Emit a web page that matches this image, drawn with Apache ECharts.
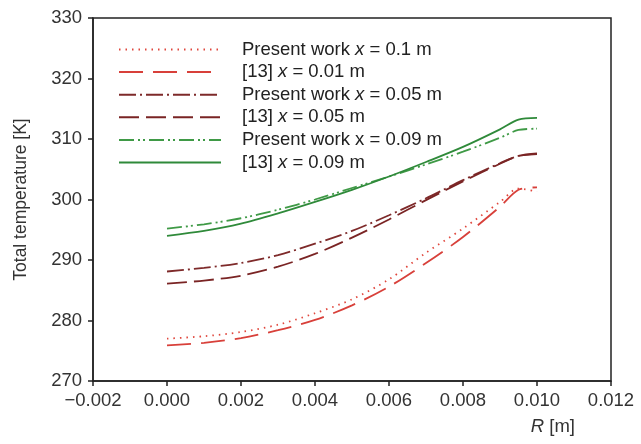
<!DOCTYPE html>
<html>
<head>
<meta charset="utf-8">
<script src="https://cdn.jsdelivr.net/npm/echarts@6/dist/echarts.min.js"></script>
<style>
html,body{margin:0;padding:0;background:#fff;}
#c{width:641px;height:444px;}
</style>
</head>
<body>
<div id="c"></div>
<script>
// Data
var radius = [0, 0.001, 0.002, 0.003, 0.004, 0.005, 0.006, 0.007, 0.008, 0.009, 0.0095, 0.010];
var presentX01 = [277.0, 277.4, 278.1, 279.3, 281.2, 283.5, 286.8, 291.2, 295.2, 299.6, 301.8, 301.3];
var ref13X001 = [275.9, 276.3, 277.1, 278.4, 280.1, 282.5, 285.6, 289.5, 293.8, 298.8, 301.6, 302.0];
var presentX005 = [288.1, 288.7, 289.5, 290.8, 292.7, 294.8, 297.4, 300.2, 303.2, 306.0, 307.2, 307.5];
var ref13X005 = [286.1, 286.6, 287.4, 288.9, 291.0, 293.7, 296.7, 299.9, 303.0, 305.9, 307.2, 307.6];
var presentX009 = [295.2, 295.9, 296.9, 298.3, 300.0, 301.9, 303.8, 305.8, 307.9, 310.2, 311.5, 311.7];
var ref13X009 = [294.0, 294.8, 296.0, 297.7, 299.6, 301.6, 303.8, 306.2, 308.7, 311.6, 313.2, 313.5];
var xTicks = ['\u22120.002', '0.000', '0.002', '0.004', '0.006', '0.008', '0.010', '0.012'];
var yTicks = ['270', '280', '290', '300', '310', '320', '330'];
var seriesNames = ['p01', 'r001', 'p005', 'r005', 'p009', 'r009'];
var legendLabels = {
  p01: 'Present work {i|x} = 0.1 m',
  r001: '[13] {i|x} = 0.01 m',
  p005: 'Present work {i|x} = 0.05 m',
  r005: '[13] {i|x} = 0.05 m',
  p009: 'Present work x = 0.09 m',
  r009: '[13] {i|x} = 0.09 m'
};

function pairs(ys) {
  return ys.map(function (v, i) { return [radius[i], v]; });
}

var FONT = 'Liberation Sans, Arial, sans-serif';
var FS = 18.5;
var chart = echarts.init(document.getElementById('c'), null, {renderer: 'canvas'});

function mk(name, data, color, dash, width) {
  return {
    name: name,
    type: 'line',
    data: pairs(data),
    symbol: 'none',
    showSymbol: false,
    smooth: 0.3,
    lineStyle: {color: color, width: width || 1.6, type: dash},
    itemStyle: {color: color},
    z: 3
  };
}

var option = {
  animation: false,
  backgroundColor: '#fff',
  grid: {left: 93, right: 30, top: 18, bottom: 63, show: true, borderColor: '#222', borderWidth: 1.5, backgroundColor: 'transparent'},
  legend: {
    orient: 'vertical',
    left: 113,
    top: 35,
    itemWidth: 102,
    itemHeight: 10,
    itemGap: 3.6,
    data: seriesNames,
    itemStyle: {opacity: 0},
    formatter: function (n) { return legendLabels[n]; },
    textStyle: {
      fontFamily: FONT, fontSize: FS, color: '#222',
      padding: [0, 0, 0, 16],
      rich: {i: {fontFamily: FONT, fontSize: FS, fontStyle: 'italic', color: '#222'}}
    }
  },
  xAxis: {
    type: 'value',
    min: -0.002, max: 0.012, interval: 0.002,
    axisLine: {onZero: false, lineStyle: {color: '#222', width: 1.5}},
    axisTick: {show: true, inside: false, length: 5, lineStyle: {color: '#222', width: 1.5}},
    splitLine: {show: false},
    axisLabel: {
      margin: 10, color: '#333', fontFamily: FONT, fontSize: FS,
      formatter: function (v) { var i = Math.round((v + 0.002) / 0.002); return xTicks[i]; }
    },
    name: '{i|R} [m]',
    nameLocation: 'end',
    nameGap: -36,
    nameTextStyle: {
      fontFamily: FONT, fontSize: FS, color: '#333', align: 'right', verticalAlign: 'top',
      padding: [36, 0, 0, 0],
      rich: {i: {fontFamily: FONT, fontSize: FS, fontStyle: 'italic', color: '#333'}}
    }
  },
  yAxis: {
    type: 'value',
    min: 270, max: 330, interval: 10,
    axisLine: {show: true, onZero: false, lineStyle: {color: '#222', width: 1.5}},
    axisTick: {show: true, inside: false, length: 5, lineStyle: {color: '#222', width: 1.5}},
    splitLine: {show: false},
    axisLabel: {
      margin: 11, color: '#333', fontFamily: FONT, fontSize: FS,
      formatter: function (v) { return yTicks[Math.round((v - 270) / 10)]; }
    },
    name: 'Total temperature [K]',
    nameLocation: 'middle',
    nameGap: 63,
    nameTextStyle: {fontFamily: FONT, fontSize: 17.5, color: '#333'}
  },
  series: [
    mk('p01', presentX01, '#e0463c', [1.5, 5], 1.8),
    mk('r001', ref13X001, '#d8403a', [24, 10], 1.8),
    mk('p005', presentX005, '#7e2a2a', [17, 4, 2, 4], 1.8),
    mk('r005', ref13X005, '#7a2424', [20, 7], 1.8),
    mk('p009', presentX009, '#3f9a46', [15, 4, 2, 3, 2, 4], 1.8),
    mk('r009', ref13X009, '#2f8a3a', 'solid', 1.8)
  ]
};
chart.setOption(option);
</script>
</body>
</html>
